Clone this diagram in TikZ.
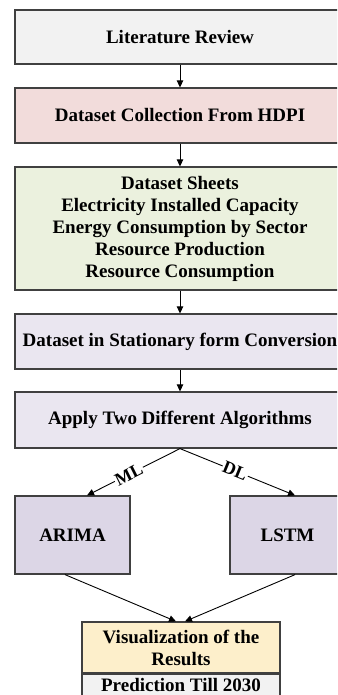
\documentclass[tikz,border=0pt]{standalone}
\usepackage{fontspec}
\setmainfont{Liberation Serif}
\usetikzlibrary{arrows.meta,calc}
\definecolor{bordc}{HTML}{404040}
\definecolor{litc}{HTML}{F2F2F2}
\definecolor{colc}{HTML}{F2DCDB}
\definecolor{grnc}{HTML}{EBF1DE}
\definecolor{lavc}{HTML}{EAE6F0}
\definecolor{lavd}{HTML}{DCD6E6}
\definecolor{yelc}{HTML}{FDEFCB}
\tikzset{
  box/.style={draw=bordc, line width=1.2pt, rectangle, align=center, inner sep=0pt,
    font=\fontsize{19}{22}\selectfont\bfseries, text=black},
  arr/.style={draw=black, line width=0.9pt, -{Triangle[length=7pt,width=6.5pt]}},
  lbl/.style={fill=white, inner sep=1pt, sloped, font=\fontsize{18}{20}\selectfont\bfseries}
}
\begin{document}
\begin{tikzpicture}[x=1pt,y=1pt]
\useasboundingbox (0,0) rectangle (337,-695);
\clip (0,0) rectangle (337,-695);
\fill[white] (0,0) rectangle (337,-695);
\node[box, fill=litc, minimum width=330pt, minimum height=54pt] (lit) at (180,-37) {Literature Review};
\node[box, fill=colc, minimum width=330pt, minimum height=55pt] (col) at (180,-115.5) {Dataset Collection From HDPI};
\node[box, fill=grnc, minimum width=330pt, minimum height=123pt] (sheets) at (180,-228.5) {Dataset Sheets\\Electricity Installed Capacity\\Energy Consumption by Sector\\Resource Production\\Resource Consumption};
\node[box, fill=lavc, minimum width=330pt, minimum height=55pt] (stat) at (180,-341.5) {Dataset in Stationary form Conversion};
\node[box, fill=lavc, minimum width=330pt, minimum height=56pt] (apply) at (180,-420) {Apply Two Different Algorithms};
\node[box, fill=lavd, minimum width=115pt, minimum height=78pt] (arima) at (72.5,-535) {ARIMA};
\node[box, fill=lavd, minimum width=115pt, minimum height=78pt] (lstm) at (287.5,-535) {LSTM};
\node[box, fill=yelc, minimum width=198pt, minimum height=51pt] (vis) at (181,-647.5) {Visualization of the\\Results};
\node[box, fill=litc, minimum width=198pt, minimum height=22pt, anchor=north] (pred) at (vis.south) {Prediction Till 2030};
\draw[arr] (lit) -- (col);
\draw[arr] (col) -- (sheets);
\draw[arr] (sheets) -- (stat);
\draw[arr] (stat) -- (apply);
\coordinate (a1) at ($(arima.north west)!0.625!(arima.north east)$);
\coordinate (l1) at ($(lstm.north west)!0.565!(lstm.north east)$);
\draw[arr] (apply.south) -- node[lbl, pos=0.55] {ML} (a1);
\draw[arr] (apply.south) -- node[lbl, pos=0.48] {DL} (l1);
\coordinate (a2) at ($(arima.south west)!0.435!(arima.south east)$);
\coordinate (l2) at ($(lstm.south west)!0.565!(lstm.south east)$);
\coordinate (v1) at ($(vis.north west)!0.475!(vis.north east)$);
\coordinate (v2) at ($(vis.north west)!0.52!(vis.north east)$);
\draw[arr] (a2) -- (v1);
\draw[arr] (l2) -- (v2);
\end{tikzpicture}
\end{document}
